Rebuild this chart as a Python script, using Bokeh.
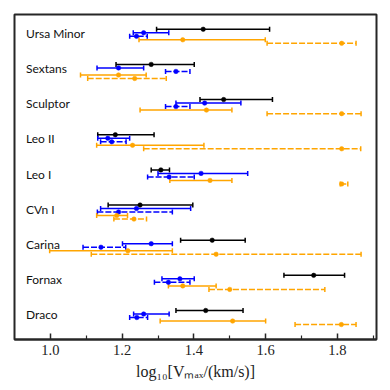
from bokeh.plotting import figure
from bokeh.models import ColumnDataSource, Whisker, TeeHead, FixedTicker, Range1d, PrintfTickFormatter
from bokeh.core.properties import value
from bokeh.embed import file_html
from bokeh.resources import INLINE

galaxies = ["Ursa Minor", "Sextans", "Sculptor", "Leo II", "Leo I",
            "CVn I", "Carina", "Fornax", "Draco"]

# black (solid)
black_lo  = [1.296, 1.183, 1.417, 1.132, 1.281, 1.161, 1.363, 1.651, 1.350]
black_mid = [1.426, 1.281, 1.483, 1.181, 1.308, 1.250, 1.451, 1.734, 1.433]
black_hi  = [1.611, 1.401, 1.619, 1.289, 1.332, 1.397, 1.543, 1.820, 1.537]

# blue (solid)
blue_lo  = [1.231, 1.130, 1.350, 1.132, 1.300, 1.140, 1.201, 1.311, 1.232]
blue_mid = [1.260, 1.190, 1.430, 1.160, 1.420, 1.240, 1.281, 1.361, 1.260]
blue_hi  = [1.330, 1.260, 1.531, 1.221, 1.550, 1.391, 1.340, 1.401, 1.331]

# blue (dashed)
bluedash_lo  = [1.221, 1.321, 1.321, 1.140, 1.271, 1.131, 1.091, 1.290, 1.221]
bluedash_mid = [1.240, 1.350, 1.350, 1.171, 1.331, 1.190, 1.141, 1.329, 1.241]
bluedash_hi  = [1.270, 1.389, 1.389, 1.211, 1.401, 1.340, 1.210, 1.389, 1.271]

# orange (solid)
orange_lo  = [1.247, 1.084, 1.250, 1.129, 1.333, 1.129, 0.998, 1.329, 1.306]
orange_mid = [1.369, 1.190, 1.435, 1.229, 1.445, 1.185, 1.216, 1.369, 1.508]
orange_hi  = [1.599, 1.267, 1.506, 1.428, 1.506, 1.215, 1.340, 1.462, 1.600]

# orange (dashed)
orangedash_lo  = [1.604, 1.104, 1.604, 1.260, 1.808, 1.177, 1.114, 1.442, 1.682]
orangedash_mid = [1.812, 1.235, 1.812, 1.812, 1.812, 1.233, 1.462, 1.500, 1.811]
orangedash_hi  = [1.852, 1.323, 1.866, 1.865, 1.829, 1.268, 1.866, 1.765, 1.852]

x_ticks = [1.0, 1.2, 1.4, 1.6, 1.8]
x_minor = [1.1, 1.3, 1.5, 1.7, 1.9]

n = len(galaxies)
base = [n - 1 - i for i in range(n)]

p = figure(frame_width=362, frame_height=325, output_backend="svg",
           toolbar_location=None, x_range=Range1d(0.9, 1.909),
           y_range=Range1d(-0.625, 8.62), y_axis_location=None,
           min_border_left=14, min_border_right=14, min_border_top=14,
           min_border_bottom=4, background_fill_color="white",
           border_fill_color="white")
p.grid.visible = False
p.outline_line_color = "#262626"
p.outline_line_width = 2

ax = p.xaxis[0]
ax.ticker = FixedTicker(ticks=x_ticks, minor_ticks=x_minor)
ax.formatter = PrintfTickFormatter(format="%.1f")
ax.axis_line_color = "#262626"
ax.axis_line_width = 2
ax.major_tick_in = 6
ax.major_tick_out = 0
ax.minor_tick_in = 4
ax.minor_tick_out = 0
ax.major_tick_line_color = "#262626"
ax.minor_tick_line_color = "#262626"
ax.major_tick_line_width = 1.5
ax.minor_tick_line_width = 1.2
ax.major_label_text_font = "Liberation Serif"
ax.major_label_text_font_size = "14.5px"
ax.major_label_text_color = "#222222"
ax.major_label_standoff = 5
ax.axis_label = "log₁₀[Vₘₐₓ/(km/s)]"
ax.axis_label_text_font = "Liberation Serif"
ax.axis_label_text_font_size = "16px"
ax.axis_label_text_font_style = "normal"
ax.axis_label_text_color = "#222222"
ax.axis_label_standoff = 5

series = [
    (black_lo, black_mid, black_hi, 0.2, "black", "solid"),
    (blue_lo, blue_mid, blue_hi, 0.1, "blue", "solid"),
    (bluedash_lo, bluedash_mid, bluedash_hi, 0.0, "blue", "6 2"),
    (orange_lo, orange_mid, orange_hi, -0.1, "orange", "solid"),
    (orangedash_lo, orangedash_mid, orangedash_hi, -0.2, "orange", "6 2"),
]

for lo, mid, hi, off, col, dash in series:
    src = ColumnDataSource(dict(y=[b + off for b in base], lo=lo, mid=mid, hi=hi))
    w = Whisker(source=src, base="y", lower="lo", upper="hi", dimension="width",
                line_color=col, line_width=1.5, line_dash=dash,
                lower_head=TeeHead(size=5, line_color=col, line_width=1.5),
                upper_head=TeeHead(size=5, line_color=col, line_width=1.5))
    p.add_layout(w)
    p.scatter("mid", "y", source=src, size=4.5, color=col, line_color=col,
              line_width=0.5)

lab = ColumnDataSource(dict(x=[0.932] * n, y=[b + 0.08 for b in base], t=galaxies))
p.text("x", "y", text="t", source=lab, text_font=value("Lato"),
       text_font_size="12px", text_baseline="middle", text_align="left",
       text_color="#111111")

open("out.html", "w").write(file_html(p, INLINE))
